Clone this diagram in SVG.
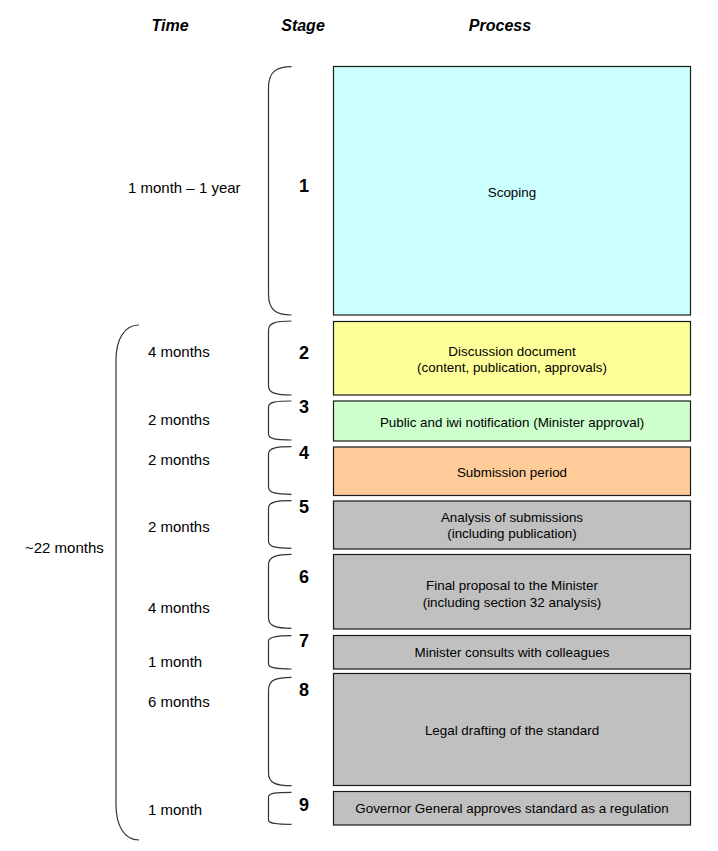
<svg xmlns="http://www.w3.org/2000/svg" width="718" height="851" viewBox="0 0 718 851">
<style>
.hdr{font-family:"Liberation Sans",Arial,sans-serif;font-size:16px;font-weight:bold;font-style:italic;fill:#000;text-anchor:middle}
.time{font-family:"Liberation Sans",Arial,sans-serif;font-size:15px;fill:#000}
.stg{font-family:"Liberation Sans",Arial,sans-serif;font-size:18px;font-weight:bold;fill:#000;text-anchor:middle}
.box{stroke:#1a1a1a;stroke-width:1.2}
.lbl{font-family:"Liberation Sans",Arial,sans-serif;font-size:13.4px;fill:#000;text-anchor:middle}
.br{fill:none;stroke:#333;stroke-width:1.2}
</style>
<rect width="718" height="851" fill="#fff"/>
<g id="headers">
<text class="hdr" x="170" y="31">Time</text>
<text class="hdr" x="303" y="31">Stage</text>
<text class="hdr" x="500" y="31">Process</text>
</g>
<g id="braces">
<path class="br" d="M291.5 66.7 C276 66.7 268.5 72 268.5 88 L268.5 294 C268.5 310 276 315 291.5 315"/>
<path class="br" d="M291.5 321 C276 321 268.5 323 268.5 330 L268.5 386 C268.5 393 276 395 291.5 395"/>
<path class="br" d="M291.5 401 C276 401 268.5 402 268.5 407 L268.5 434 C268.5 439 276 440 291.5 440"/>
<path class="br" d="M291.5 446.7 C276 446.7 268.5 448 268.5 454 L268.5 487 C268.5 493 276 494.3 291.5 494.3"/>
<path class="br" d="M291.5 500.7 C276 500.7 268.5 502 268.5 508 L268.5 541 C268.5 547 276 548.3 291.5 548.3"/>
<path class="br" d="M291.5 554.3 C276 554.3 268.5 557 268.5 565 L268.5 618 C268.5 626 276 628.3 291.5 628.3"/>
<path class="br" d="M291.5 635.7 C276 635.7 268.5 637 268.5 641 L268.5 664 C268.5 668 276 669 291.5 669"/>
<path class="br" d="M291.5 677.3 C276 677.3 268.5 680 268.5 690 L268.5 773 C268.5 783 276 785.7 291.5 785.7"/>
<path class="br" d="M291.5 792.3 C276 792.3 268.5 793 268.5 797 L268.5 820 C268.5 823.5 276 824.3 291.5 824.3"/>
<path class="br" d="M139 325 C124 325 116 340 116 360 L116 805 C116 825 124 840 139 840"/>
</g>
<g id="time-labels">
<text class="time" x="128" y="193">1 month – 1 year</text>
<text class="time" x="25" y="553">~22 months</text>
<text class="time" x="148" y="357">4 months</text>
<text class="time" x="148" y="424.5">2 months</text>
<text class="time" x="148" y="464.5">2 months</text>
<text class="time" x="148" y="532">2 months</text>
<text class="time" x="148" y="613">4 months</text>
<text class="time" x="148" y="667">1 month</text>
<text class="time" x="148" y="707">6 months</text>
<text class="time" x="148" y="814.5">1 month</text>
</g>
<g id="stage-numbers">
<text class="stg" x="304" y="192">1</text>
<text class="stg" x="304" y="359">2</text>
<text class="stg" x="304" y="413">3</text>
<text class="stg" x="304" y="459">4</text>
<text class="stg" x="304" y="513">5</text>
<text class="stg" x="304" y="583">6</text>
<text class="stg" x="304" y="647">7</text>
<text class="stg" x="304" y="696">8</text>
<text class="stg" x="304" y="811">9</text>
</g>
<g id="node1"><rect class="box" x="333.5" y="66.5" width="357" height="248.5" fill="#CCFFFF"/><text class="lbl" x="512" y="196.5">Scoping</text></g>
<g id="node2"><rect class="box" x="333.5" y="321.5" width="357" height="73.5" fill="#FFFF99"/><text class="lbl" x="512" y="355.5">Discussion document</text><text class="lbl" x="512" y="371.5">(content, publication, approvals)</text></g>
<g id="node3"><rect class="box" x="333.5" y="401" width="357" height="40" fill="#CCFFCC"/><text class="lbl" x="512" y="426.5">Public and iwi notification (Minister approval)</text></g>
<g id="node4"><rect class="box" x="333.5" y="447" width="357" height="48.5" fill="#FFCC99"/><text class="lbl" x="512" y="476.5">Submission period</text></g>
<g id="node5"><rect class="box" x="333.5" y="501" width="357" height="48" fill="#C0C0C0"/><text class="lbl" x="512" y="521.5">Analysis of submissions</text><text class="lbl" x="512" y="537.5">(including publication)</text></g>
<g id="node6"><rect class="box" x="333.5" y="554.5" width="357" height="74.5" fill="#C0C0C0"/><text class="lbl" x="512" y="590">Final proposal to the Minister</text><text class="lbl" x="512" y="606.5">(including section 32 analysis)</text></g>
<g id="node7"><rect class="box" x="333.5" y="635.5" width="357" height="33.5" fill="#C0C0C0"/><text class="lbl" x="512" y="656.5">Minister consults with colleagues</text></g>
<g id="node8"><rect class="box" x="333.5" y="673.5" width="357" height="112" fill="#C0C0C0"/><text class="lbl" x="512" y="735">Legal drafting of the standard</text></g>
<g id="node9"><rect class="box" x="333.5" y="791.5" width="357" height="33.5" fill="#C0C0C0"/><text class="lbl" x="512" y="813">Governor General approves standard as a regulation</text></g>
</svg>
